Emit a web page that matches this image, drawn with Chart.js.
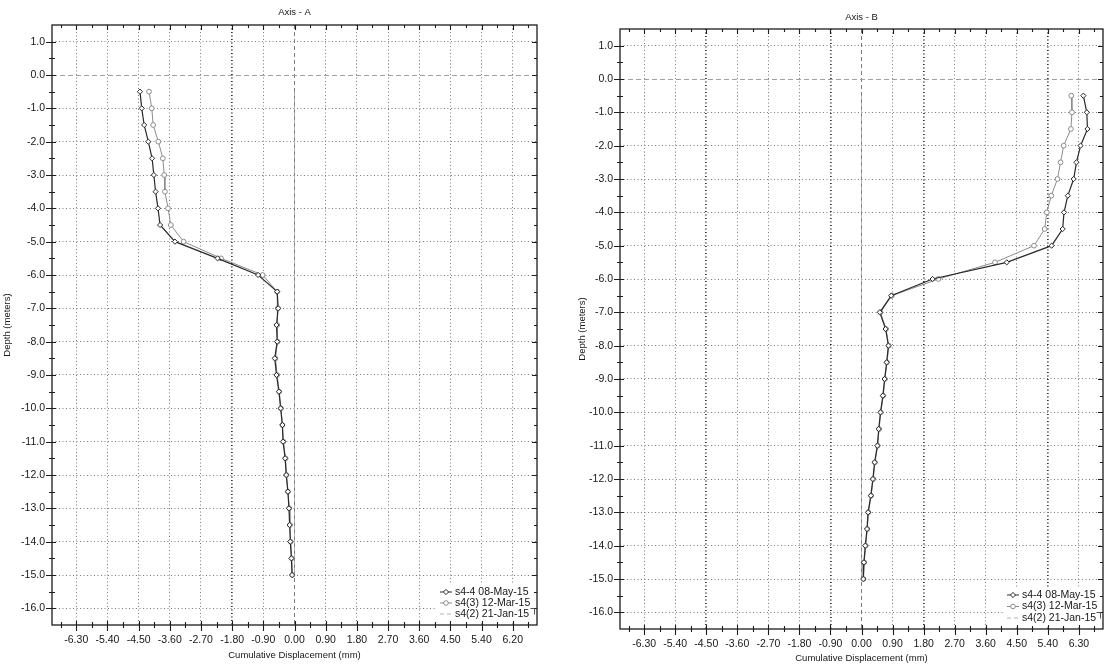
<!DOCTYPE html>
<html>
<head>
<meta charset="utf-8">
<title>Axis - A / Axis - B</title>
<script src="https://cdn.jsdelivr.net/npm/chart.js@4.4.0/dist/chart.umd.min.js"></script>
<style>
  html, body { margin: 0; padding: 0; background: #fff; overflow: hidden; }
  #wrap { position: relative; width: 1108px; height: 664px; }
  #chartA { position: absolute; left: 0; top: 0; }
  #chartB { position: absolute; left: 570px; top: 0; }
</style>
</head>
<body>
<div id="wrap">
  <canvas id="chartA" width="548" height="664"></canvas>
  <canvas id="chartB" width="538" height="664"></canvas>
</div>
<script>
// Profundidad de cada lectura (m)
const depths = [-0.5, -1.0, -1.5, -2.0, -2.5, -3.0, -3.5, -4.0, -4.5, -5.0,
                -5.5, -6.0, -6.5, -7.0, -7.5, -8.0, -8.5, -9.0, -9.5, -10.0,
                -10.5, -11.0, -11.5, -12.0, -12.5, -13.0, -13.5, -14.0, -14.5, -15.0];

// Series etiquetas
const seriesLabels = ['s4-4 08-May-15', 's4(3) 12-Mar-15', 's4(2) 21-Jan-15'];

// Eje A - desplazamiento acumulado (mm)
const axisA_s44 = [-4.46, -4.41, -4.34, -4.22, -4.11, -4.06, -4.01, -3.94, -3.88, -3.45,
                   -2.22, -1.05, -0.50, -0.47, -0.52, -0.50, -0.57, -0.52, -0.45, -0.40,
                   -0.35, -0.33, -0.27, -0.24, -0.19, -0.16, -0.14, -0.12, -0.09, -0.07];
const axisA_s43 = [-4.20, -4.12, -4.08, -3.93, -3.80, -3.76, -3.74, -3.65, -3.57, -3.20,
                   -2.12, -0.92, -0.50, -0.48, -0.50, -0.49, -0.55, -0.50, -0.44, -0.39,
                   -0.35, -0.32, -0.26, -0.23, -0.19, -0.15, -0.13, -0.11, -0.08, -0.06];
const axisA_s42 = [0, 0, 0, 0, 0, 0, 0, 0, 0, 0, 0, 0, 0, 0, 0,
                   0, 0, 0, 0, 0, 0, 0, 0, 0, 0, 0, 0, 0, 0, 0];

// Eje B - desplazamiento acumulado (mm)
const axisB_s44 = [6.43, 6.53, 6.55, 6.35, 6.23, 6.15, 5.98, 5.87, 5.83, 5.51,
                   4.21, 2.06, 0.86, 0.53, 0.70, 0.78, 0.73, 0.67, 0.62, 0.55,
                   0.50, 0.46, 0.38, 0.33, 0.27, 0.19, 0.16, 0.11, 0.07, 0.05];
const axisB_s43 = [6.08, 6.10, 6.07, 5.86, 5.77, 5.68, 5.50, 5.37, 5.31, 5.00,
                   3.87, 2.23, 0.88, 0.55, 0.71, 0.79, 0.74, 0.68, 0.63, 0.56,
                   0.51, 0.47, 0.39, 0.34, 0.28, 0.20, 0.17, 0.12, 0.08, 0.06];
const axisB_s42 = [0, 0, 0, 0, 0, 0, 0, 0, 0, 0, 0, 0, 0, 0, 0,
                   0, 0, 0, 0, 0, 0, 0, 0, 0, 0, 0, 0, 0, 0, 0];

// Ticks
const xTicks = [-6.3, -5.4, -4.5, -3.6, -2.7, -1.8, -0.9, 0, 0.9, 1.8, 2.7, 3.6, 4.5, 5.4, 6.3];
const xLabelsA = ['-6.30', '-5.40', '-4.50', '-3.60', '-2.70', '-1.80', '-0.90', '0.00',
                  '0.90', '1.80', '2.70', '3.60', '4.50', '5.40', '6.20'];
const xLabelsB = ['-6.30', '-5.40', '-4.50', '-3.60', '-2.70', '-1.80', '-0.90', '0.00',
                  '0.90', '1.80', '2.70', '3.60', '4.50', '5.40', '6.30'];
const yTicks = [1, 0, -1, -2, -3, -4, -5, -6, -7, -8, -9, -10, -11, -12, -13, -14, -15, -16];
const yLabels = ['1.0', '0.0', '-1.0', '-2.0', '-3.0', '-4.0', '-5.0', '-6.0', '-7.0', '-8.0',
                 '-9.0', '-10.0', '-11.0', '-12.0', '-13.0', '-14.0', '-15.0', '-16.0'];

// lineas de rejilla que salen mas oscuras en el escaneo
const boldGridA = [-1.8];
const boldGridB = [-4.5, -0.9, 1.8, 5.4];

const TXT = '#161616';
const FONT = 'Liberation Sans, Arial, sans-serif';

function toPoints(vals) {
  return depths.map((d, i) => ({ x: vals[i], y: d }));
}

function makeDatasets(s44, s43, s42) {
  return [
    { label: seriesLabels[0], data: toPoints(s44), showLine: true, tension: 0,
      borderColor: '#2a2a2a', borderWidth: 1.2,
      pointStyle: 'rectRot', pointRadius: 2.6, pointBorderWidth: 1,
      pointBackgroundColor: '#fff', pointBorderColor: '#2a2a2a' },
    { label: seriesLabels[1], data: toPoints(s43), showLine: true, tension: 0,
      borderColor: '#8c8c8c', borderWidth: 1,
      pointStyle: 'circle', pointRadius: 2.4, pointBorderWidth: 1,
      pointBackgroundColor: '#fff', pointBorderColor: '#8c8c8c' },
    { label: seriesLabels[2], data: toPoints(s42), showLine: true, tension: 0,
      borderColor: '#b4b4b4', borderWidth: 1, borderDash: [4, 3],
      pointRadius: 0 }
  ];
}

// Marco, marcas de ticks, titulo y leyenda dentro del area
const frameTicks = {
  id: 'frameTicks',
  afterDraw(chart, args, o) {
    const { ctx, chartArea: a, scales: { x, y } } = chart;
    ctx.save();
    ctx.strokeStyle = '#1c1c1c';
    ctx.lineWidth = 1.3;
    ctx.strokeRect(a.left, a.top, a.right - a.left, a.bottom - a.top);

    ctx.lineWidth = 1.1;
    const xMinor = xTicks.map(v => v - 0.45).concat([xTicks[xTicks.length - 1] + 0.45]);
    const yMinor = yTicks.map(v => v - 0.5).filter(v => v > y.min);
    ctx.beginPath();
    xTicks.forEach(v => {
      const px = Math.round(x.getPixelForValue(v)) + 0.5;
      ctx.moveTo(px, a.bottom - 4); ctx.lineTo(px, a.bottom + 6);
      ctx.moveTo(px, a.top); ctx.lineTo(px, a.top + 5);
    });
    xMinor.forEach(v => {
      const px = Math.round(x.getPixelForValue(v)) + 0.5;
      ctx.moveTo(px, a.bottom - 3); ctx.lineTo(px, a.bottom + 3);
      ctx.moveTo(px, a.top); ctx.lineTo(px, a.top + 3);
    });
    yTicks.forEach(v => {
      const py = Math.round(y.getPixelForValue(v)) + 0.5;
      ctx.moveTo(a.left - 6, py); ctx.lineTo(a.left + 4, py);
      ctx.moveTo(a.right - 5, py); ctx.lineTo(a.right, py);
    });
    yMinor.forEach(v => {
      const py = Math.round(y.getPixelForValue(v)) + 0.5;
      ctx.moveTo(a.left - 3, py); ctx.lineTo(a.left + 3, py);
      ctx.moveTo(a.right - 3, py); ctx.lineTo(a.right, py);
    });
    ctx.stroke();

    // titulo
    ctx.fillStyle = TXT;
    ctx.font = '9.5px ' + FONT;
    ctx.textAlign = 'center';
    ctx.textBaseline = 'middle';
    ctx.fillText(o.title, (a.left + a.right) / 2, o.titleY);

    // leyenda (fondo blanco sobre la rejilla)
    const n = chart.data.datasets.length;
    ctx.fillStyle = '#fff';
    ctx.fillRect(o.legendX - 3, o.legendY - 7, a.right - 3 - (o.legendX - 3),
                 (n - 1) * o.legendGap + 14);
    ctx.strokeStyle = '#555';
    ctx.lineWidth = 1;
    ctx.beginPath();
    const bx = Math.round(a.right - 3) + 0.5;
    const by = Math.round(o.legendY + (n - 1) * o.legendGap - 6) + 0.5;
    ctx.moveTo(bx - 4, by); ctx.lineTo(bx, by); ctx.lineTo(bx, by + 6);
    ctx.stroke();

    ctx.font = '10.5px ' + FONT;
    ctx.textAlign = 'left';
    chart.data.datasets.forEach((ds, i) => {
      const ly = o.legendY + i * o.legendGap;
      const lx = o.legendX;
      ctx.strokeStyle = ds.borderColor;
      ctx.lineWidth = 1;
      ctx.setLineDash(ds.borderDash || []);
      ctx.beginPath();
      ctx.moveTo(lx, ly); ctx.lineTo(lx + 12, ly);
      ctx.stroke();
      ctx.setLineDash([]);
      if (ds.pointRadius > 0) {
        ctx.fillStyle = '#fff';
        ctx.strokeStyle = ds.pointBorderColor;
        ctx.beginPath();
        if (ds.pointStyle === 'rectRot') {
          const r = 2.6;
          ctx.moveTo(lx + 6, ly - r); ctx.lineTo(lx + 6 + r, ly);
          ctx.lineTo(lx + 6, ly + r); ctx.lineTo(lx + 6 - r, ly);
          ctx.closePath();
        } else {
          ctx.arc(lx + 6, ly, 2.3, 0, Math.PI * 2);
        }
        ctx.fill(); ctx.stroke();
      }
      ctx.fillStyle = TXT;
      ctx.fillText(ds.label, lx + 15, ly);
    });
    ctx.restore();
  }
};

function makeOptions(cfg) {
  const gridColor = c => (c.tick && cfg.bold.includes(c.tick.value)) ? '#2e2e2e' : '#7c7c7c';
  const gridWidth = c => (c.tick && cfg.bold.includes(c.tick.value)) ? 1.7 : 1;
  return {
    responsive: false,
    animation: false,
    events: [],
    layout: { padding: { top: cfg.top, right: cfg.right, left: 0, bottom: 0 } },
    plugins: {
      legend: { display: false },
      tooltip: { enabled: false },
      frameTicks: {
        title: cfg.title, titleY: cfg.titleY,
        legendX: cfg.legendX, legendY: cfg.legendY, legendGap: cfg.legendGap
      }
    },
    scales: {
      x: {
        type: 'linear', min: -7, max: 7,
        afterBuildTicks: s => { s.ticks = xTicks.map(v => ({ value: v })); },
        afterFit: s => { s.height = cfg.xAxisHeight; },
        ticks: {
          autoSkip: false, maxRotation: 0, minRotation: 0, padding: 9,
          color: TXT, font: { family: FONT, size: 10.5 },
          callback: (v, i) => cfg.xLabels[i]
        },
        grid: { drawTicks: false, color: gridColor, lineWidth: gridWidth },
        border: { display: false, dash: c => (c.tick && c.tick.value === 0) ? [4, 3] : [1, 2.5] },
        title: {
          display: true, text: 'Cumulative Displacement (mm)', color: TXT,
          font: { family: FONT, size: 9.5 }, padding: { top: 0, bottom: cfg.xTitlePad }
        }
      },
      y: {
        type: 'linear', min: -16.5, max: 1.5,
        afterBuildTicks: s => { s.ticks = yTicks.map(v => ({ value: v })); },
        afterFit: s => { s.width = cfg.yAxisWidth; },
        ticks: {
          autoSkip: false, padding: 7,
          color: TXT, font: { family: FONT, size: 10.5 },
          callback: (v, i) => yLabels[i]
        },
        grid: { drawTicks: false, color: c => (c.tick && c.tick.value === 0) ? '#a0a0a0' : '#7c7c7c' },
        border: { display: false, dash: c => (c.tick && c.tick.value === 0) ? [5, 3] : [1, 2.5] },
        title: {
          display: true, text: 'Depth (meters)', color: TXT,
          font: { family: FONT, size: 9.5 }, padding: { top: cfg.yTitlePad, bottom: 0 }
        }
      }
    }
  };
}

new Chart(document.getElementById('chartA'), {
  type: 'scatter',
  data: { datasets: makeDatasets(axisA_s44, axisA_s43, axisA_s42) },
  options: makeOptions({
    title: 'Axis - A', titleY: 12, top: 25, right: 11,
    xAxisHeight: 39, xTitlePad: 3, yAxisWidth: 52, yTitlePad: 2,
    xLabels: xLabelsA, bold: boldGridA,
    legendX: 440, legendY: 592, legendGap: 11
  }),
  plugins: [frameTicks]
});

new Chart(document.getElementById('chartB'), {
  type: 'scatter',
  data: { datasets: makeDatasets(axisB_s44, axisB_s43, axisB_s42) },
  options: makeOptions({
    title: 'Axis - B', titleY: 17, top: 29, right: 4,
    xAxisHeight: 35, xTitlePad: 0, yAxisWidth: 50, yTitlePad: 7,
    xLabels: xLabelsB, bold: boldGridB,
    legendX: 437, legendY: 595, legendGap: 11.5
  }),
  plugins: [frameTicks]
});
</script>
</body>
</html>
